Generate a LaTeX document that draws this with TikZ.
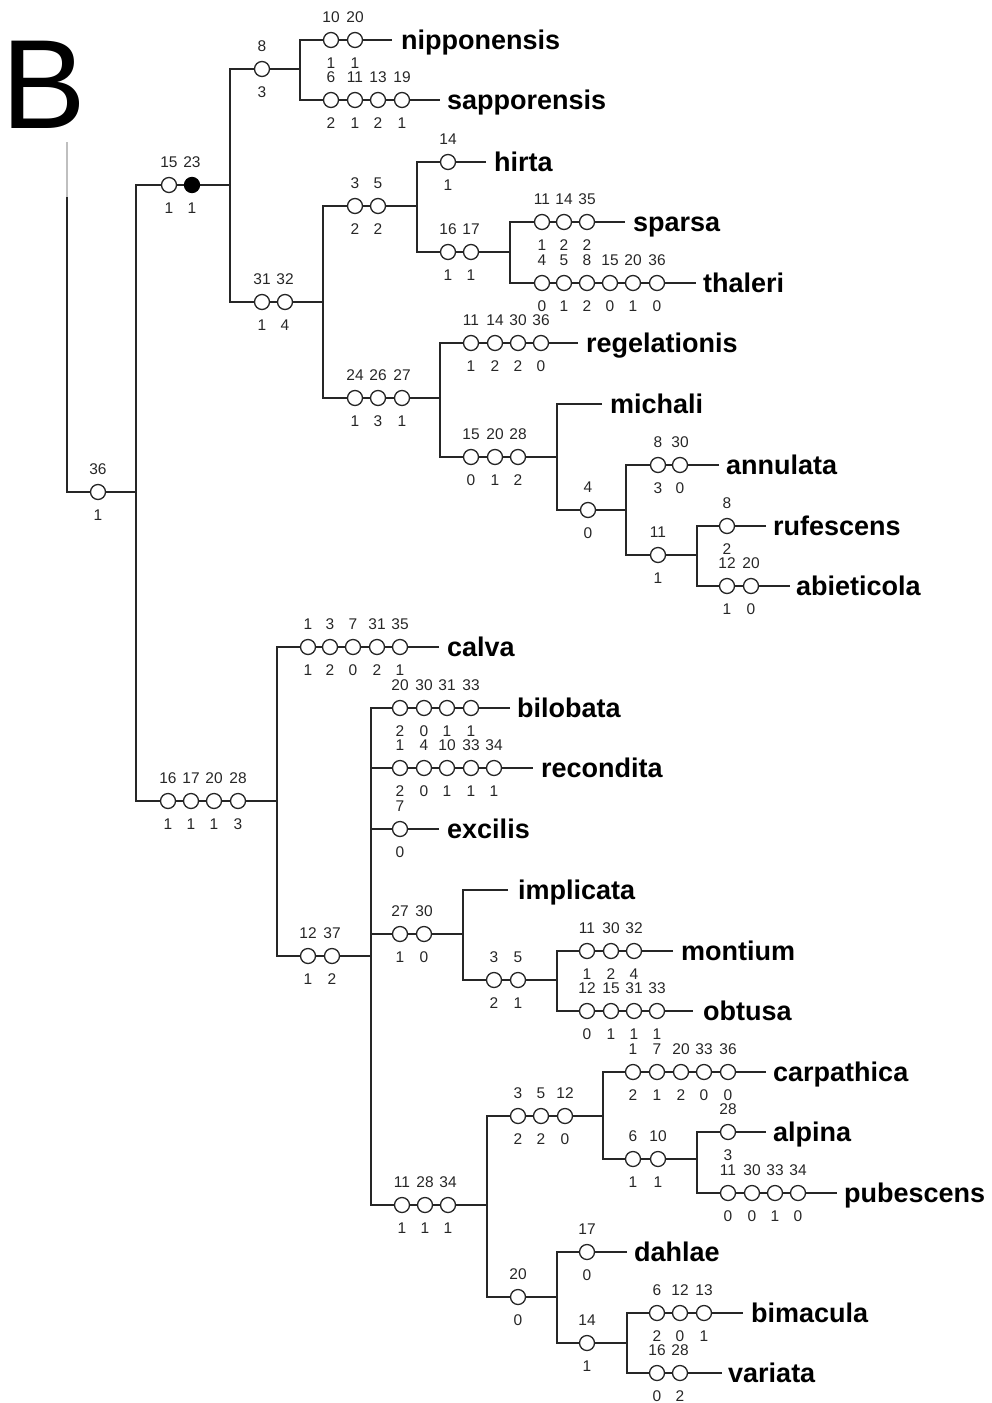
\documentclass[tikz,border=0pt]{standalone}
\usepackage{fontspec}
\setmainfont{Liberation Sans}

% one character-state change: circle with character number above and state below
\newcommand\chst[6][cst]{%
  \node[#1] (#2) at (#3,#4) {};
  \node[num] (#2-t) at (#3,#4-17.5) {#5};
  \node[num] (#2-b) at (#3,#4+28) {#6};
}

\begin{document}
\begin{tikzpicture}[x=1pt,y=-1pt,
  edge/.style={draw=black!85, line width=1.5pt},
  heavy/.style={draw=black!85, line width=2.5pt},
  cst/.style={circle, draw=black!85, fill=white, line width=1.3pt,
              minimum size=15pt, inner sep=0pt},
  cstf/.style={cst, fill=black, draw=black},
  num/.style={font=\fontsize{15.5}{15.5}\selectfont, anchor=base,
              inner sep=0pt, text=black!85},
  taxon/.style={font=\fontsize{27}{27}\selectfont\bfseries,
                anchor=base west, inner sep=0pt},
]
\useasboundingbox (0,0) rectangle (991,1403);

% panel letter
\node[font=\fontsize{127}{127}\selectfont, anchor=base west, inner sep=0pt]
  (panel) at (1,128) {B};

% ---------- junctions and branch ends ----------
\coordinate (rfade) at (67,142);
\coordinate (rtop) at (67,197);
\coordinate (root) at (67,492);
\coordinate (n1) at (136,492);
\coordinate (n2) at (230,185);
\coordinate (n3) at (300,69);
\coordinate (l-nip) at (392,40);
\coordinate (l-sap) at (440,100);
\coordinate (n4) at (323,302);
\coordinate (n5) at (417,206);
\coordinate (l-hir) at (486,162);
\coordinate (n6) at (510,252);
\coordinate (l-spa) at (625,222);
\coordinate (l-tha) at (696,283);
\coordinate (n7) at (440,398);
\coordinate (l-reg) at (578,343);
\coordinate (n8) at (557,457);
\coordinate (l-mic) at (602,404);
\coordinate (n9) at (626,510);
\coordinate (l-ann) at (719,465);
\coordinate (n9b) at (697,555);
\coordinate (l-ruf) at (766,526);
\coordinate (l-abi) at (790,586);
\coordinate (n10) at (277,801);
\coordinate (l-cal) at (439,647);
\coordinate (n11) at (371,956);
\coordinate (l-bil) at (510,708);
\coordinate (l-rec) at (533,768);
\coordinate (l-exc) at (439,829);
\coordinate (n12) at (463,934);
\coordinate (l-imp) at (508,890);
\coordinate (n13) at (557,980);
\coordinate (l-mon) at (673,951);
\coordinate (l-obt) at (693,1011);
\coordinate (n14) at (487,1205);
\coordinate (n15) at (603,1116);
\coordinate (l-car) at (766,1072);
\coordinate (n16) at (697,1159);
\coordinate (l-alp) at (766,1132);
\coordinate (l-pub) at (837,1193);
\coordinate (n17) at (557,1297);
\coordinate (l-dah) at (627,1252);
\coordinate (n18) at (627,1343);
\coordinate (l-bim) at (743,1313);
\coordinate (l-var) at (722,1373);
\coordinate (k-a) at (371,1038);
\coordinate (k-b) at (371,1088);
\coordinate (k-c) at (603,1092);

% ---------- branches ----------
\draw[edge, draw=black!25] (rfade) -- (rtop);
\draw[edge] (rtop) -- (root) -- (n1);
\draw[edge] (n2) -- (n1 |- n2) -- (n1 |- n10) -- (n10);
\draw[edge] (n3) -- (n2 |- n3) -- (n2 |- n4) -- (n4);
\draw[edge] (l-nip) -- (n3 |- l-nip) -- (n3 |- l-sap) -- (l-sap);
\draw[edge] (n5) -- (n4 |- n5) -- (n4 |- n7) -- (n7);
\draw[edge] (l-hir) -- (n5 |- l-hir) -- (n5 |- n6) -- (n6);
\draw[edge] (l-spa) -- (n6 |- l-spa) -- (n6 |- l-tha) -- (l-tha);
\draw[edge] (l-reg) -- (n7 |- l-reg) -- (n7 |- n8) -- (n8);
\draw[edge] (l-mic) -- (n8 |- l-mic) -- (n8 |- n9) -- (n9);
\draw[edge] (l-ann) -- (n9 |- l-ann) -- (n9 |- n9b) -- (n9b);
\draw[edge] (l-ruf) -- (n9b |- l-ruf) -- (n9b |- l-abi) -- (l-abi);
\draw[edge] (l-cal) -- (n10 |- l-cal) -- (n10 |- n11) -- (n11);
\draw[edge] (l-bil) -- (n11 |- l-bil) -- (n11 |- n14) -- (n14);
\draw[edge] (n11 |- l-rec) -- (l-rec);
\draw[edge] (n11 |- l-exc) -- (l-exc);
\draw[edge] (n11 |- n12) -- (n12);
\draw[edge] (l-imp) -- (n12 |- l-imp) -- (n12 |- n13) -- (n13);
\draw[edge] (l-mon) -- (n13 |- l-mon) -- (n13 |- l-obt) -- (l-obt);
\draw[edge] (n15) -- (n14 |- n15) -- (n14 |- n17) -- (n17);
\draw[edge] (l-car) -- (n15 |- l-car) -- (n15 |- n16) -- (n16);
\draw[edge] (l-alp) -- (n16 |- l-alp) -- (n16 |- l-pub) -- (l-pub);
\draw[edge] (l-dah) -- (n17 |- l-dah) -- (n17 |- n18) -- (n18);
\draw[edge] (l-bim) -- (n18 |- l-bim) -- (n18 |- l-var) -- (l-var);
% heavier stretches of line
\draw[heavy] (k-a) -- (k-b);
\draw[heavy] (k-c) -- (n15 |- l-car) -- ++(22,0);

% ---------- character-state changes ----------
\chst{r36}{98}{492}{36}{1}
\chst{a15}{169}{185}{15}{1}
\chst[cstf]{a23}{192}{185}{23}{1}
\chst{b8}{262}{69}{8}{3}
\chst{nip10}{331}{40}{10}{1}
\chst{nip20}{355}{40}{20}{1}
\chst{sap6}{331}{100}{6}{2}
\chst{sap11}{355}{100}{11}{1}
\chst{sap13}{378}{100}{13}{2}
\chst{sap19}{402}{100}{19}{1}
\chst{c31}{262}{302}{31}{1}
\chst{c32}{285}{302}{32}{4}
\chst{d3}{355}{206}{3}{2}
\chst{d5}{378}{206}{5}{2}
\chst{hir14}{448}{162}{14}{1}
\chst{e16}{448}{252}{16}{1}
\chst{e17}{471}{252}{17}{1}
\chst{spa11}{542}{222}{11}{1}
\chst{spa14}{564}{222}{14}{2}
\chst{spa35}{587}{222}{35}{2}
\chst{tha4}{542}{283}{4}{0}
\chst{tha5}{564}{283}{5}{1}
\chst{tha8}{587}{283}{8}{2}
\chst{tha15}{610}{283}{15}{0}
\chst{tha20}{633}{283}{20}{1}
\chst{tha36}{657}{283}{36}{0}
\chst{f24}{355}{398}{24}{1}
\chst{f26}{378}{398}{26}{3}
\chst{f27}{402}{398}{27}{1}
\chst{reg11}{471}{343}{11}{1}
\chst{reg14}{495}{343}{14}{2}
\chst{reg30}{518}{343}{30}{2}
\chst{reg36}{541}{343}{36}{0}
\chst{g15}{471}{457}{15}{0}
\chst{g20}{495}{457}{20}{1}
\chst{g28}{518}{457}{28}{2}
\chst{h4}{588}{510}{4}{0}
\chst{ann8}{658}{465}{8}{3}
\chst{ann30}{680}{465}{30}{0}
\chst{i11}{658}{555}{11}{1}
\chst{ruf8}{727}{526}{8}{2}
\chst{abi12}{727}{586}{12}{1}
\chst{abi20}{751}{586}{20}{0}
\chst{j16}{168}{801}{16}{1}
\chst{j17}{191}{801}{17}{1}
\chst{j20}{214}{801}{20}{1}
\chst{j28}{238}{801}{28}{3}
\chst{cal1}{308}{647}{1}{1}
\chst{cal3}{330}{647}{3}{2}
\chst{cal7}{353}{647}{7}{0}
\chst{cal31}{377}{647}{31}{2}
\chst{cal35}{400}{647}{35}{1}
\chst{k12}{308}{956}{12}{1}
\chst{k37}{332}{956}{37}{2}
\chst{bil20}{400}{708}{20}{2}
\chst{bil30}{424}{708}{30}{0}
\chst{bil31}{447}{708}{31}{1}
\chst{bil33}{471}{708}{33}{1}
\chst{rec1}{400}{768}{1}{2}
\chst{rec4}{424}{768}{4}{0}
\chst{rec10}{447}{768}{10}{1}
\chst{rec33}{471}{768}{33}{1}
\chst{rec34}{494}{768}{34}{1}
\chst{exc7}{400}{829}{7}{0}
\chst{m27}{400}{934}{27}{1}
\chst{m30}{424}{934}{30}{0}
\chst{o3}{494}{980}{3}{2}
\chst{o5}{518}{980}{5}{1}
\chst{mon11}{587}{951}{11}{1}
\chst{mon30}{611}{951}{30}{2}
\chst{mon32}{634}{951}{32}{4}
\chst{obt12}{587}{1011}{12}{0}
\chst{obt15}{611}{1011}{15}{1}
\chst{obt31}{634}{1011}{31}{1}
\chst{obt33}{657}{1011}{33}{1}
\chst{p11}{402}{1205}{11}{1}
\chst{p28}{425}{1205}{28}{1}
\chst{p34}{448}{1205}{34}{1}
\chst{q3}{518}{1116}{3}{2}
\chst{q5}{541}{1116}{5}{2}
\chst{q12}{565}{1116}{12}{0}
\chst{car1}{633}{1072}{1}{2}
\chst{car7}{657}{1072}{7}{1}
\chst{car20}{681}{1072}{20}{2}
\chst{car33}{704}{1072}{33}{0}
\chst{car36}{728}{1072}{36}{0}
\chst{s6}{633}{1159}{6}{1}
\chst{s10}{658}{1159}{10}{1}
\chst{alp28}{728}{1132}{28}{3}
\chst{pub11}{728}{1193}{11}{0}
\chst{pub30}{752}{1193}{30}{0}
\chst{pub33}{775}{1193}{33}{1}
\chst{pub34}{798}{1193}{34}{0}
\chst{u20}{518}{1297}{20}{0}
\chst{dah17}{587}{1252}{17}{0}
\chst{v14}{587}{1343}{14}{1}
\chst{bim6}{657}{1313}{6}{2}
\chst{bim12}{680}{1313}{12}{0}
\chst{bim13}{704}{1313}{13}{1}
\chst{var16}{657}{1373}{16}{0}
\chst{var28}{680}{1373}{28}{2}

% ---------- taxa ----------
\node[taxon] (t-nip) at (401,49.5) {nipponensis};
\node[taxon] (t-sap) at (447,109.5) {sapporensis};
\node[taxon] (t-hir) at (494,171.5) {hirta};
\node[taxon] (t-spa) at (633,231.5) {sparsa};
\node[taxon] (t-tha) at (703,292.5) {thaleri};
\node[taxon] (t-reg) at (586,352.5) {regelationis};
\node[taxon] (t-mic) at (610,413.5) {michali};
\node[taxon] (t-ann) at (726,474.5) {annulata};
\node[taxon] (t-ruf) at (773,535.5) {rufescens};
\node[taxon] (t-abi) at (796,595.5) {abieticola};
\node[taxon] (t-cal) at (447,656.5) {calva};
\node[taxon] (t-bil) at (517,717.5) {bilobata};
\node[taxon] (t-rec) at (541,777.5) {recondita};
\node[taxon] (t-exc) at (447,838.5) {excilis};
\node[taxon] (t-imp) at (518,899.5) {implicata};
\node[taxon] (t-mon) at (681,960.5) {montium};
\node[taxon] (t-obt) at (703,1020.5) {obtusa};
\node[taxon] (t-car) at (773,1081.5) {carpathica};
\node[taxon] (t-alp) at (773,1141.5) {alpina};
\node[taxon] (t-pub) at (844,1202.5) {pubescens};
\node[taxon] (t-dah) at (634,1261.5) {dahlae};
\node[taxon] (t-bim) at (751,1322.5) {bimacula};
\node[taxon] (t-var) at (728,1382.5) {variata};
\end{tikzpicture}
\end{document}
